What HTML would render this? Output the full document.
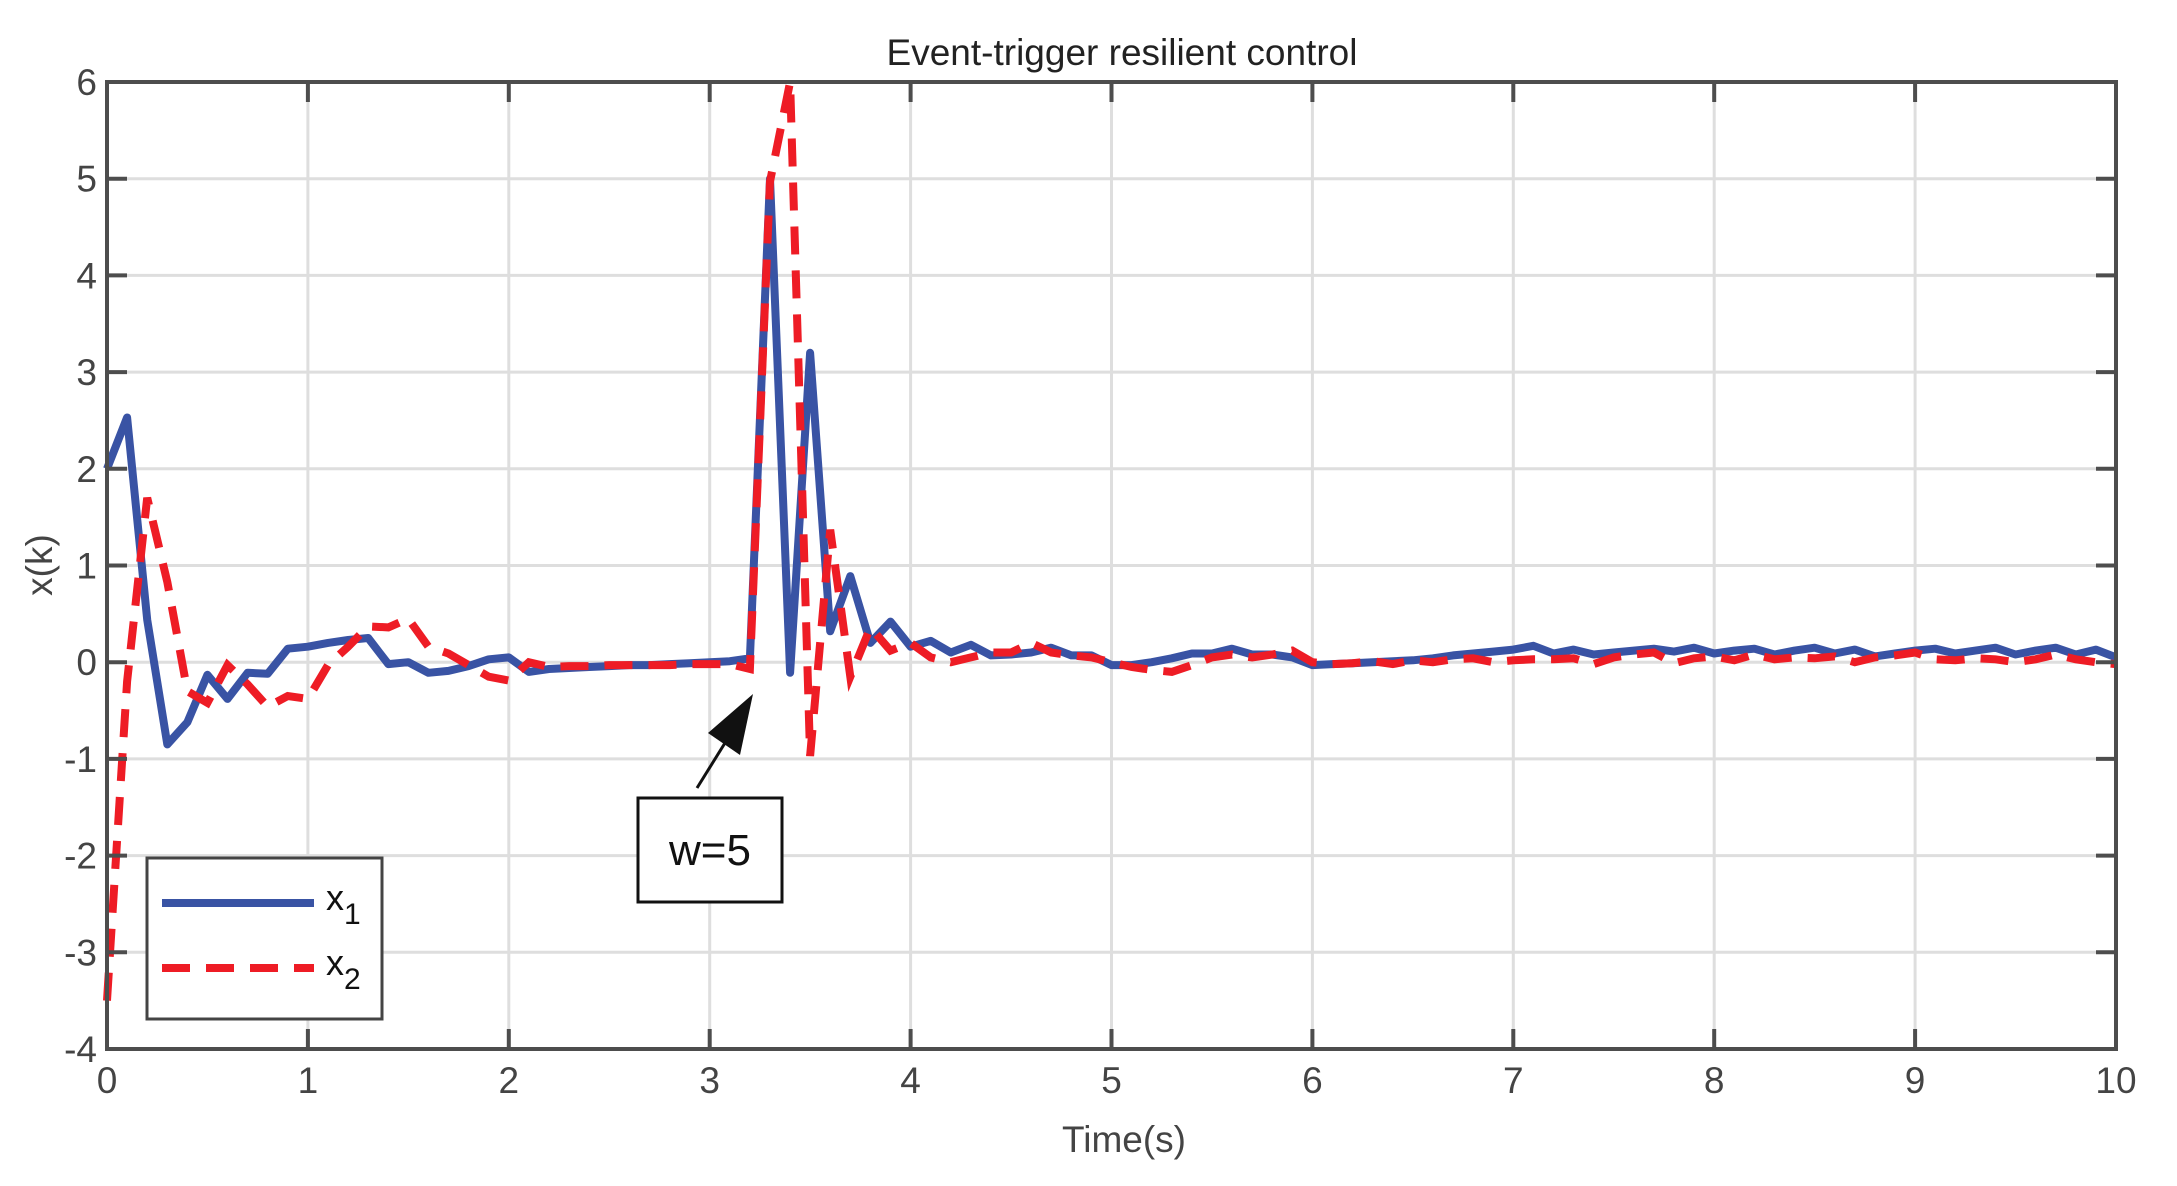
<!DOCTYPE html>
<html><head><meta charset="utf-8"><style>
body{margin:0;background:#fff;}
svg{display:block;font-family:"Liberation Sans",Arial,sans-serif;}
</style></head><body>
<svg id="chart" width="2177" height="1186" viewBox="0 0 2177 1186" xmlns="http://www.w3.org/2000/svg">
<rect width="2177" height="1186" fill="#fff"/>
<g id="grid"></g>
<g id="series"></g>
<rect x="107" y="82" width="2009" height="967" fill="none" stroke="#4d4d4d" stroke-width="4"/>
<g id="ticks"></g>
<text x="1122" y="65" font-size="37" text-anchor="middle" fill="#222">Event-trigger resilient control</text>
<text x="1124" y="1152" font-size="37" text-anchor="middle" fill="#444">Time(s)</text>
<text x="52" y="565" font-size="37" text-anchor="middle" fill="#444" transform="rotate(-90 52 565)">x(k)</text>
<g>
<line x1="697" y1="788" x2="738" y2="722" stroke="#111" stroke-width="3"/>
<polygon points="753,694 708,733 740,755" fill="#111"/>
<rect x="638" y="798" width="144" height="104" fill="#fff" stroke="#111" stroke-width="3"/>
<text x="710" y="865" font-size="44" text-anchor="middle" fill="#111">w=5</text>
</g>
<g>
<rect x="147" y="858" width="235" height="161" fill="#fff" stroke="#444" stroke-width="3"/>
<line x1="162" y1="903" x2="314" y2="903" stroke="#3953a4" stroke-width="8"/>
<text x="326" y="910" font-size="36" fill="#111">x<tspan dy="14" font-size="30">1</tspan></text>
<line x1="162" y1="968" x2="314" y2="968" stroke="#ee1c25" stroke-width="8" stroke-dasharray="28,16"/>
<text x="326" y="975" font-size="36" fill="#111">x<tspan dy="14" font-size="30">2</tspan></text>
</g>
</svg>
<script>
const xTicks=[0,1,2,3,4,5,6,7,8,9,10];
const yTicks=[-4,-3,-2,-1,0,1,2,3,4,5,6];
const dt=0.1;
const x1Values=[2.0,2.53,0.44,-0.85,-0.62,-0.13,-0.38,-0.11,-0.12,0.14,0.16,0.2,0.23,0.25,-0.02,0.0,-0.11,-0.09,-0.04,0.03,0.05,-0.1,-0.07,-0.06,-0.05,-0.04,-0.03,-0.03,-0.02,-0.01,0.0,0.01,0.04,5.0,-0.11,3.2,0.32,0.89,0.2,0.42,0.16,0.22,0.1,0.18,0.07,0.08,0.1,0.15,0.07,0.07,-0.03,-0.03,0.0,0.04,0.09,0.09,0.14,0.08,0.08,0.05,-0.03,-0.02,-0.01,0.0,0.01,0.02,0.04,0.07,0.09,0.11,0.13,0.17,0.09,0.13,0.08,0.1,0.12,0.14,0.11,0.15,0.09,0.12,0.14,0.08,0.12,0.15,0.09,0.13,0.06,0.09,0.12,0.14,0.09,0.12,0.15,0.08,0.12,0.15,0.08,0.13,0.05];
const x2Values=[-3.5,-0.2,1.7,0.83,-0.3,-0.42,-0.03,-0.23,-0.46,-0.35,-0.38,-0.03,0.16,0.37,0.36,0.45,0.16,0.09,-0.03,-0.15,-0.19,0.0,-0.05,-0.04,-0.04,-0.03,-0.03,-0.03,-0.03,-0.02,-0.02,-0.02,-0.07,4.97,6.0,-0.97,1.37,-0.15,0.36,0.12,0.2,0.05,0.0,0.05,0.1,0.1,0.2,0.1,0.07,0.05,0.0,-0.05,-0.08,-0.1,-0.03,0.05,0.08,0.05,0.08,0.12,0.0,-0.02,-0.01,0.01,-0.02,0.02,0.0,0.03,0.04,0.0,0.02,0.03,0.03,0.04,-0.02,0.05,0.08,0.1,-0.01,0.04,0.06,0.02,0.08,0.03,0.05,0.04,0.06,0.0,0.05,0.07,0.1,0.03,0.02,0.04,0.03,0.0,0.03,0.08,0.03,0.0,-0.02];
const L=107,R=2116,T=82,B=1049;
const sx=v=>L+(v-0)/10*(R-L);
const sy=v=>B-(v+4)/10*(B-T);
const NS='http://www.w3.org/2000/svg';
const grid=document.getElementById('grid'),ticks=document.getElementById('ticks'),series=document.getElementById('series');
function mk(tag,attrs,parent){const e=document.createElementNS(NS,tag);for(const k in attrs)e.setAttribute(k,attrs[k]);parent.appendChild(e);return e;}
xTicks.forEach(t=>{
  const g=mk('line',{x1:sx(t),x2:sx(t),y1:T,y2:B,stroke:'#dedede','stroke-width':3},grid);
  
  
  const a=mk('line',{x1:sx(t),x2:sx(t),y1:B,y2:B-20,stroke:'#4d4d4d','stroke-width':4},ticks);
  
  
  const b=mk('line',{x1:sx(t),x2:sx(t),y1:T,y2:T+20,stroke:'#4d4d4d','stroke-width':4},ticks);
  
  
  const tx=mk('text',{x:sx(t),y:B+44,'font-size':37,'text-anchor':'middle',fill:'#444'},ticks);
  tx.textContent=t;
  
  
});
yTicks.forEach(t=>{
  const g=mk('line',{x1:L,x2:R,y1:sy(t),y2:sy(t),stroke:'#dedede','stroke-width':3},grid);
  
  
  const a=mk('line',{x1:L,x2:L+20,y1:sy(t),y2:sy(t),stroke:'#4d4d4d','stroke-width':4},ticks);
  
  
  const b=mk('line',{x1:R,x2:R-20,y1:sy(t),y2:sy(t),stroke:'#4d4d4d','stroke-width':4},ticks);
  
  
  const tx=mk('text',{x:L-10,y:sy(t)+13,'font-size':37,'text-anchor':'end',fill:'#444'},ticks);
  tx.textContent=t;
  
  
});
function pts(arr){return arr.map((v,i)=>sx(i*dt).toFixed(1)+','+sy(v).toFixed(1)).join(' ');}
const p1=mk('polyline',{points:pts(x1Values),fill:'none',stroke:'#3953a4','stroke-width':8,'stroke-linejoin':'round'},series);


const p2=mk('polyline',{points:pts(x2Values),fill:'none',stroke:'#ee1c25','stroke-width':8,'stroke-dasharray':'28,16'},series);


</script>
</body></html>
